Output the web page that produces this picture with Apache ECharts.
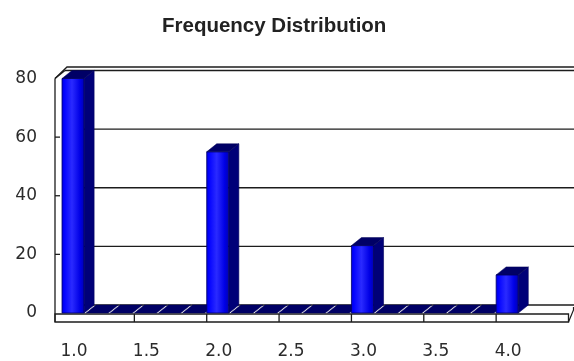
<!DOCTYPE html>
<html>
<head>
<meta charset="utf-8">
<script src="https://cdn.jsdelivr.net/npm/echarts@6/dist/echarts.min.js"></script>
<style>
  html, body { margin: 0; padding: 0; background: #fff; }
  #chart { width: 574px; height: 361px; }
</style>
</head>
<body>
<div id="chart"></div>
<script>
// Histogram bins (lower edge of each bin) and their counts
const binStarts = [1.0, 1.1667, 1.3333, 1.5, 1.6667, 1.8333,
                   2.0, 2.1667, 2.3333, 2.5, 2.6667, 2.8333,
                   3.0, 3.1667, 3.3333, 3.5, 3.6667, 3.8333, 4.0];
const frequencies = [80, 0, 0, 0, 0, 0,
                     55, 0, 0, 0, 0, 0,
                     23, 0, 0, 0, 0, 0,
                     13];
const binWidth = 0.1667;

// Axis ticks
const yTicks = [0, 20, 40, 60, 80];
const xTickMarks = [1.5, 2.0, 2.5, 3.0, 3.5, 4.0];

// Pseudo-3D depth and frame styling (pixels)
const DX = 10, DY = 8;
const BAR_GAP = 2;
const AXIS_GAP = 7;       // front vertical axis sits left of the first bin
const FLOOR_TOP = 1, FLOOR_BOTTOM = 9;
const LINE = '#1c1c1c';

const chart = echarts.init(document.getElementById('chart'), null, { renderer: 'canvas' });

function frontGradient() {
  return new echarts.graphic.LinearGradient(0, 0, 1, 0, [
    { offset: 0, color: '#0000d0' },
    { offset: 0.1, color: '#0000ff' },
    { offset: 0.45, color: '#2a2aff' },
    { offset: 0.8, color: '#0000e6' },
    { offset: 1, color: '#0000b0' }
  ]);
}

// Back wall with its gridlines and the left wall edge
function renderWall(params, api) {
  const v = api.value(0);
  const p = api.coord([1.0, v]);
  const cs = params.coordSys;
  const xLeft = cs.x - AXIS_GAP;
  const xRight = cs.x + cs.width + DX + 20;
  const children = [{
    type: 'line',
    shape: { x1: xLeft + DX, y1: p[1] - DY, x2: xRight, y2: p[1] - DY },
    style: { stroke: LINE, lineWidth: 1.3 }
  }];
  if (v === yTicks[yTicks.length - 1]) {
    children.push({
      type: 'polyline',
      shape: { points: [[xLeft, p[1]], [xLeft + DX, p[1] - DY]] },
      style: { stroke: LINE, lineWidth: 1.3, fill: null }
    });
    children.push({
      type: 'polyline',
      shape: { points: [[xLeft, p[1]], [xLeft + DX + 2, p[1] - DY - 3.5], [xRight, p[1] - DY - 3.5]] },
      style: { stroke: LINE, lineWidth: 1.3, fill: null }
    });
  }
  return { type: 'group', children: children };
}

// Floor front edge with x tick marks, plus the front value axis
function renderFloor(params, api) {
  const cs = params.coordSys;
  const base = api.coord([1.0, 0]);
  const xLeft = cs.x - AXIS_GAP;
  const xRight = cs.x + cs.width;
  const yTop = base[1] + FLOOR_TOP, yBot = base[1] + FLOOR_BOTTOM;
  const children = [
    { type: 'rect', shape: { x: xLeft, y: yTop, width: xRight - xLeft, height: yBot - yTop },
      style: { fill: '#fff', stroke: LINE, lineWidth: 1.3 } },
    { type: 'polyline', shape: { points: [[xRight, yBot], [xRight + 5, yTop - 4], [xRight + 5, yTop - 7]] },
      style: { stroke: LINE, lineWidth: 1.2, fill: null } },
    { type: 'line', shape: { x1: xLeft, y1: api.coord([1.0, yTicks[yTicks.length - 1]])[1], x2: xLeft, y2: yBot },
      style: { stroke: LINE, lineWidth: 1.3 } }
  ];
  xTickMarks.forEach(function (t) {
    const q = api.coord([t, 0]);
    children.push({ type: 'line', shape: { x1: q[0], y1: yTop, x2: q[0], y2: yBot },
      style: { stroke: LINE, lineWidth: 1.3 } });
  });
  yTicks.forEach(function (t) {
    if (t === 0 || t === yTicks[yTicks.length - 1]) return;
    const q = api.coord([1.0, t]);
    children.push({ type: 'line', shape: { x1: xLeft, y1: q[1], x2: xLeft + 5, y2: q[1] },
      style: { stroke: LINE, lineWidth: 1.3 } });
  });
  return { type: 'group', children: children };
}

// 3D bars: front face, side face, top face
function renderBar(params, api) {
  const x = api.value(0), v = api.value(1);
  const base = api.coord([x, 0]);
  const top = api.coord([x, v]);
  const step = api.size([binWidth, 0])[0];
  const w = step - BAR_GAP;
  const x0 = base[0], x1 = x0 + w, y0 = base[1], y1 = top[1];
  const children = [];
  if (v > 0) {
    children.push({ type: 'rect', shape: { x: x0, y: y1, width: w, height: y0 - y1 },
      style: { fill: frontGradient(), stroke: '#00006a', lineWidth: 0.8 } });
    children.push({ type: 'polygon',
      shape: { points: [[x1, y0], [x1 + DX, y0 - DY], [x1 + DX, y1 - DY], [x1, y1]] },
      style: { fill: '#000078', stroke: '#000060', lineWidth: 0.6 } });
  }
  children.push({ type: 'polygon',
    shape: { points: [[x0, y1], [x1, y1], [x1 + DX, y1 - DY], [x0 + DX, y1 - DY]] },
    style: { fill: '#000066', stroke: '#000058', lineWidth: 0.5 } });
  return { type: 'group', children: children };
}

const labelFont = { fontFamily: 'DejaVu Sans', fontSize: 17, color: '#2b2b2b' };

chart.setOption({
  animation: false,
  title: {
    text: 'Frequency Distribution',
    left: 157, top: 11,
    textStyle: { fontFamily: "'Liberation Sans', Arial", fontWeight: 'bold',
                 fontSize: 20.5, color: '#222' }
  },
  grid: { left: 62, right: 5.5, top: 78.5, bottom: 48 },
  xAxis: {
    type: 'value', min: 1.0, max: 4.5, interval: 0.5,
    axisLine: { show: false }, axisTick: { show: false }, splitLine: { show: false },
    axisLabel: Object.assign({ margin: 30, showMaxLabel: false, padding: [0, 0, 0, 24],
      formatter: function (v) { return v.toFixed(1); } }, labelFont)
  },
  yAxis: {
    type: 'value', min: 0, max: 80, interval: 20,
    axisLine: { show: false }, axisTick: { show: false }, splitLine: { show: false },
    axisLabel: Object.assign({ margin: 25, padding: [3, 0, 0, 0] }, labelFont)
  },
  series: [
    { type: 'custom', z: 1, renderItem: renderWall, data: yTicks.map(function (t) { return [t]; }),
      encode: { y: 0 }, silent: true },
    { type: 'custom', z: 2, renderItem: renderFloor, data: [[1.0, 0]], encode: { x: 0, y: 1 }, silent: true },
    { type: 'custom', z: 3, renderItem: renderBar,
      data: binStarts.map(function (b, i) { return [b, frequencies[i]]; }),
      encode: { x: 0, y: 1 } }
  ]
});
</script>
</body>
</html>
